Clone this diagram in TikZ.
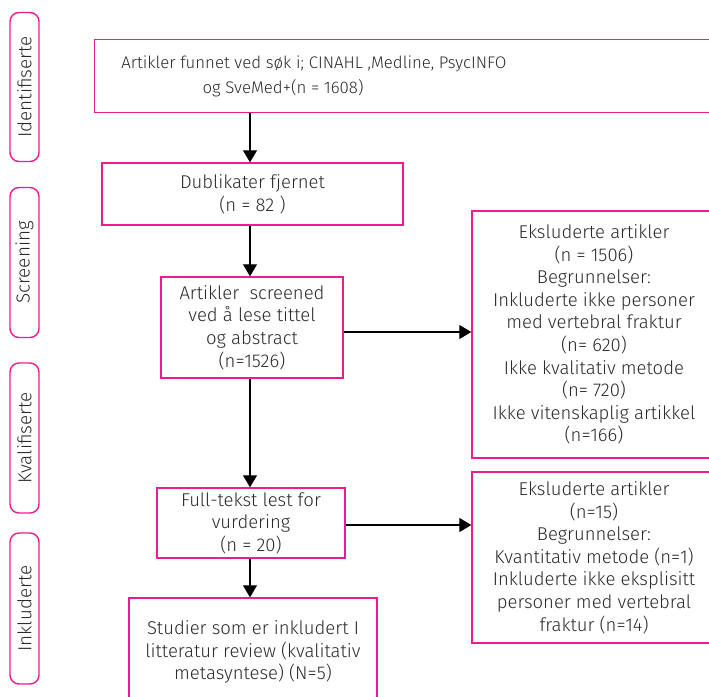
\documentclass[tikz,border=0pt]{standalone}
\usepackage{fontspec}
\setmainfont{Fira Sans}[UprightFont={* Light}]
\usetikzlibrary{arrows.meta}
\definecolor{pinkline}{HTML}{EC1C8E}
\definecolor{txt}{HTML}{2A2A2A}
\tikzset{
  pbox/.style={draw=pinkline, line width=1.4pt, rectangle, inner sep=0pt, align=center,
    text=txt, font=\fontsize{18.5}{22.6}\selectfont},
  pill/.style={draw=pinkline, line width=1.4pt, rounded corners=9pt, inner sep=0pt,
    minimum width=29pt, text=txt, font=\fontsize{18.8}{20}\selectfont},
  ptext/.style={text=txt, font=\fontsize{16.8}{22.6}\selectfont, inner sep=0pt, anchor=base},
  flow/.style={line width=1.2pt, black, -{Triangle[length=12pt,width=14pt]}}
}
\begin{document}
\begin{tikzpicture}[x=1pt,y=-1pt]
\useasboundingbox (0,0) rectangle (709,696);
\clip (0,0) rectangle (709,696);
% side pills
\node[pill, minimum height=149pt] (p1) at (24.5,87) {\rotatebox{90}{Identifiserte}};
\node[pill, minimum height=150pt] (p2) at (24.5,262.5) {\rotatebox{90}{Screening}};
\node[pill, minimum height=150pt] (p3) at (24.5,438) {\rotatebox{90}{Kvalifiserte}};
\node[pill, minimum height=151pt] (p4) at (24.5,608.5) {\rotatebox{90}{Inkluderte}};
% boxes
\node[pbox, anchor=north west, minimum width=625pt, minimum height=73pt] (top) at (94,39) {};
\node[ptext] (t1) at (314,68) {Artikler funnet ved søk i; CINAHL ,Medline, PsycINFO};
\node[ptext] (t2) at (283,93) {og SveMed+(n = 1608)};
\node[pbox, minimum width=301pt, minimum height=62pt] (dup) at (252.5,194) {Dublikater fjernet\\(n = 82 )};
\node[pbox, minimum width=182pt, minimum height=101pt] (scr) at (252,327.5) {Artikler\ \ screened\\ved å lese tittel\\og abstract\\(n=1526)};
\node[pbox, minimum width=244pt, minimum height=247pt] (ex1) at (594,334.5) {Eksluderte artikler\\(n = 1506)\\Begrunnelser:\\Inkluderte ikke personer\\med vertebral fraktur\\(n= 620)\\Ikke kvalitativ metode\\(n= 720)\\Ikke vitenskaplig artikkel\\(n=166)};
\node[pbox, minimum width=188pt, minimum height=70pt] (full) at (251,523) {Full-tekst lest for\\vurdering\\(n = 20)};
\node[pbox, minimum width=244pt, minimum height=171pt] (ex2) at (594,557.5) {Eksluderte artikler\\(n=15)\\Begrunnelser:\\Kvantitativ metode (n=1)\\Inkluderte ikke eksplisitt\\personer med vertebral\\fraktur (n=14)};
\node[pbox, minimum width=248pt, minimum height=108pt] (inc) at (253,652) {Studier som er inkludert I\\litteratur review (kvalitativ\\metasyntese) (N=5)};
% connectors
\draw[flow] (top.south -| dup.north) ++(-2.5,0) coordinate (a1) -- (a1 |- dup.north);
\draw[flow] (dup.south) ++(-2.5,0) coordinate (a2) -- (a2 |- scr.north);
\draw[flow] (scr.south) ++(-2,0) coordinate (a3) -- (a3 |- full.north);
\draw[flow] (full.south) ++(-1,0) coordinate (a4) -- (a4 |- inc.north);
\draw[flow] (scr.east) ++(0,4.5) coordinate (b1) -- (b1 -| ex1.west);
\draw[flow] (full.east) ++(0,2) coordinate (b2) -- (b2 -| ex2.west);
\end{tikzpicture}
\end{document}
